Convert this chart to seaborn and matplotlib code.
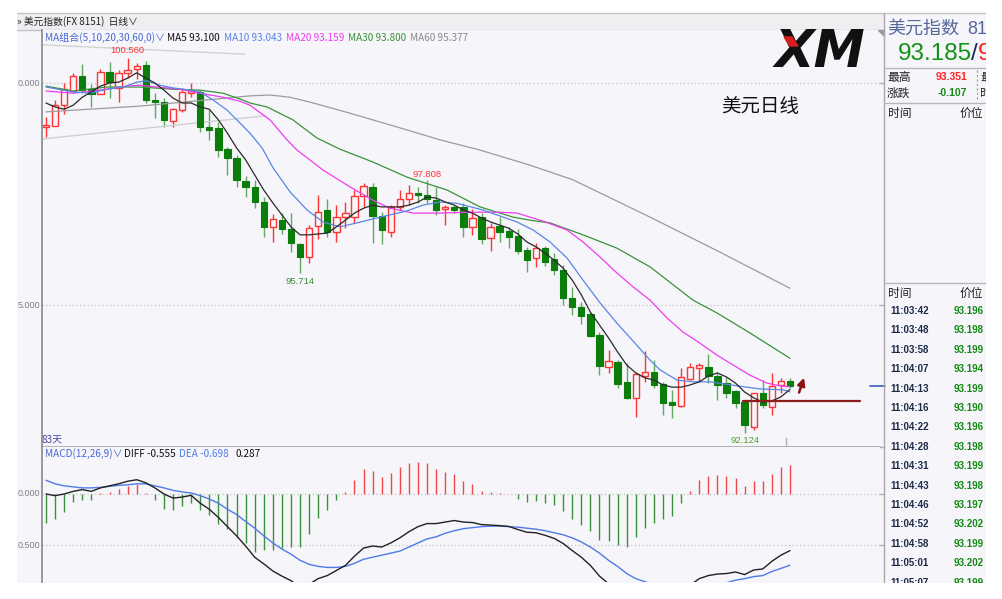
import numpy as np
import pandas as pd
import matplotlib
matplotlib.use('Agg')
import matplotlib.pyplot as plt
from matplotlib.patches import Rectangle, FancyArrowPatch
import seaborn as sns

# daily candles, 83 days
opens = [99.01, 99.03, 99.50, 99.82, 100.16, 99.86, 99.75, 100.25, 99.89, 100.23,
         100.32, 100.41, 99.62, 99.57, 99.14, 99.39, 99.77, 99.80, 99.01, 98.99,
         98.51, 98.31, 97.79, 97.66, 97.32, 96.76, 96.91, 96.71, 96.37, 96.08,
         96.78, 97.14, 96.64, 96.98, 96.98, 97.45, 97.66, 97.00, 96.64, 97.21,
         97.39, 97.52, 97.48, 97.36, 97.16, 97.21, 97.21, 96.76, 96.98, 96.51,
         96.78, 96.67, 96.55, 96.24, 96.06, 96.28, 96.04, 95.79, 95.16, 94.95,
         94.80, 94.32, 93.60, 93.72, 93.27, 92.91, 93.40, 93.49, 93.22, 92.82,
         92.73, 93.33, 93.58, 93.60, 93.40, 93.24, 93.06, 92.82, 92.25, 93.02,
         92.70, 93.20, 93.29]
highs = [99.23, 99.62, 100.00, 100.23, 100.43, 99.98, 100.32, 100.47, 100.29, 100.56,
         100.45, 100.50, 99.77, 99.66, 99.44, 99.89, 100.00, 99.84, 99.39, 99.12,
         98.56, 98.38, 97.91, 97.82, 97.43, 97.05, 97.07, 97.07, 96.40, 96.80,
         97.48, 97.39, 97.25, 97.32, 97.59, 97.75, 97.75, 97.09, 97.25, 97.59,
         97.70, 97.66, 97.808, 97.66, 97.25, 97.25, 97.30, 97.16, 97.07, 96.85,
         96.98, 96.76, 96.71, 96.31, 96.40, 96.33, 96.17, 95.90, 95.41, 95.07,
         94.84, 94.39, 93.99, 93.76, 93.69, 93.49, 93.96, 93.76, 93.27, 93.09,
         93.58, 93.69, 93.69, 93.90, 93.47, 93.38, 93.09, 92.86, 93.02, 93.31,
         93.47, 93.36, 93.351]
lows = [98.78, 99.03, 99.30, 99.80, 99.80, 99.46, 99.75, 99.66, 99.57, 100.11,
        100.09, 99.55, 99.21, 99.01, 99.01, 99.35, 99.68, 98.90, 98.72, 98.33,
        97.93, 97.66, 97.43, 97.18, 96.53, 96.42, 96.60, 96.19, 95.714, 95.95,
        96.49, 96.53, 96.42, 96.73, 96.85, 97.21, 96.40, 96.37, 96.53, 97.14,
        97.25, 97.30, 97.30, 97.03, 96.80, 97.07, 96.53, 96.58, 96.37, 96.22,
        96.42, 96.28, 96.15, 95.74, 95.86, 95.88, 95.68, 95.00, 94.77, 94.57,
        94.28, 93.42, 93.47, 93.13, 92.88, 92.48, 93.27, 93.13, 92.52, 92.45,
        92.70, 93.31, 93.27, 93.24, 92.86, 92.91, 92.68, 92.124, 92.18, 92.68,
        92.52, 93.02, 93.13]
closes = [99.05, 99.50, 99.86, 100.16, 99.84, 99.75, 100.25, 100.02, 100.23, 100.29,
          100.38, 99.62, 99.57, 99.17, 99.41, 99.80, 99.82, 99.01, 98.94, 98.49,
          98.31, 97.82, 97.66, 97.32, 96.76, 96.94, 96.71, 96.40, 96.08, 96.73,
          97.09, 96.64, 96.98, 97.07, 97.45, 97.68, 97.00, 96.68, 97.21, 97.39,
          97.52, 97.48, 97.39, 97.14, 97.21, 97.14, 96.76, 96.96, 96.49, 96.76,
          96.64, 96.53, 96.22, 96.01, 96.28, 95.97, 95.79, 95.16, 94.95, 94.75,
          94.30, 93.63, 93.74, 93.22, 92.91, 93.45, 93.49, 93.20, 92.79, 92.75,
          93.38, 93.60, 93.65, 93.40, 93.20, 93.02, 92.79, 92.30, 93.02, 92.75,
          93.18, 93.29, 93.185]

# moving averages as drawn on the chart
ma5 = [99.55, 99.46, 99.41, 99.50, 99.68, 99.80, 99.93, 100.00, 100.02, 100.11,
       100.23, 100.11, 100.00, 99.84, 99.66, 99.55, 99.55, 99.46, 99.41, 99.17,
       98.87, 98.54, 98.27, 97.93, 97.59, 97.30, 97.03, 96.76, 96.58, 96.58,
       96.60, 96.62, 96.76, 96.91, 97.07, 97.18, 97.25, 97.21, 97.21, 97.21,
       97.25, 97.32, 97.43, 97.41, 97.32, 97.25, 97.14, 97.07, 96.96, 96.87,
       96.80, 96.73, 96.60, 96.42, 96.31, 96.17, 96.01, 95.83, 95.56, 95.23,
       94.84, 94.55, 94.26, 93.94, 93.65, 93.47, 93.36, 93.31, 93.20, 93.15,
       93.15, 93.20, 93.27, 93.40, 93.47, 93.38, 93.24, 93.04, 92.91, 92.81,
       92.84, 92.93, 93.10]
ma10_x = [0, 2.98, 4.85, 6.72, 8.49, 10.03, 11.13, 12.56, 14.0, 15.87, 16.97, 18.41,
          19.95, 21.38, 22.48, 23.81, 25.02, 26.89, 28.77, 30.53, 32.40, 34.28, 36.04,
          37.91, 39.79, 41.55, 43.43, 45.30, 48.16, 51.91, 53.68, 55.55, 57.42, 59.19,
          61.06, 62.93, 64.70, 66.57, 67.67, 69.55, 71.31, 73.18, 76.16, 78.69, 81.23, 82]
ma10_y = [99.91, 99.80, 99.77, 99.86, 99.91, 100.02, 100.05, 99.95, 99.89, 99.84, 99.80, 99.62,
          99.39, 99.10, 98.87, 98.54, 98.09, 97.55, 97.14, 96.87, 96.76, 96.85, 96.94,
          97.03, 97.12, 97.25, 97.32, 97.29, 97.14, 96.87, 96.69, 96.42, 96.06, 95.56,
          95.05, 94.59, 94.19, 93.76, 93.54, 93.31, 93.27, 93.27, 93.18, 93.11, 93.09, 93.043]
ma20_x = [0, 2.98, 6.72, 8.93, 10.36, 12.23, 14.77, 16.97, 19.51, 21.38, 22.48, 24.69,
          26.56, 27.66, 30.53, 33.51, 36.04, 37.91, 40.45, 43.43, 46.73, 50.04, 51.91,
          54.78, 57.42, 59.19, 61.06, 62.93, 64.70, 66.57, 68.44, 70.21, 72.08, 73.96,
          75.72, 77.59, 79.47, 81.23, 82]
ma20_y = [99.82, 99.77, 99.86, 99.93, 99.95, 99.91, 99.86, 99.77, 99.68, 99.59, 99.50, 99.17,
          98.72, 98.49, 98.04, 97.66, 97.36, 97.18, 97.07, 97.07, 97.09, 97.09, 97.07,
          96.89, 96.69, 96.42, 96.08, 95.72, 95.41, 95.11, 94.71, 94.39, 94.14, 93.87,
          93.65, 93.42, 93.24, 93.17, 93.159]
ma30_x = [0, 2.98, 6.72, 10.36, 14.0, 16.97, 19.51, 21.38, 22.48, 24.36, 27.22, 27.99,
          29.87, 32.40, 36.04, 39.79, 44.20, 47.83, 51.47, 53.34, 55.55, 59.19, 62.93,
          66.57, 71.31, 73.96, 77.59, 82]
ma30_y = [99.93, 99.82, 99.91, 99.91, 99.86, 99.84, 99.77, 99.64, 99.55, 99.46, 99.17, 99.05,
          98.76, 98.51, 98.22, 97.88, 97.59, 97.21, 96.98, 96.91, 96.85, 96.58, 96.28,
          95.86, 95.11, 94.82, 94.37, 93.80]
ma60_x = [0, 10.36, 17.75, 22.48, 24.69, 26.89, 29.10, 33.51, 39.02, 43.43, 47.83,
          53.34, 58.08, 66.57, 74.29, 82]
ma60_y = [99.35, 99.48, 99.62, 99.71, 99.73, 99.68, 99.57, 99.32, 98.99, 98.72, 98.49,
          98.15, 97.82, 96.98, 96.19, 95.377]

# MACD(12,26,9)
diff_line = [0.00, -0.016, 0.00, 0.026, 0.043, 0.026, 0.06, 0.08, 0.10, 0.125,
             0.14, 0.11, 0.06, 0.00, -0.04, -0.03, -0.013, -0.09, -0.15, -0.23,
             -0.32, -0.41, -0.51, -0.62, -0.685, -0.755, -0.805, -0.85, -0.91, -0.885,
             -0.83, -0.80, -0.75, -0.70, -0.61, -0.53, -0.51, -0.52, -0.48, -0.43,
             -0.37, -0.32, -0.29, -0.29, -0.275, -0.26, -0.275, -0.28, -0.30, -0.305,
             -0.31, -0.318, -0.348, -0.375, -0.38, -0.405, -0.435, -0.485, -0.555, -0.62,
             -0.70, -0.805, -0.88, -0.96, -1.04, -1.04, -1.025, -1.03, -1.035, -1.03,
             -0.965, -0.894, -0.83, -0.80, -0.785, -0.78, -0.765, -0.79, -0.745, -0.735,
             -0.66, -0.60, -0.555]
dea_line = [0.135, 0.10, 0.08, 0.07, 0.06, 0.06, 0.065, 0.075, 0.085, 0.09,
            0.10, 0.10, 0.08, 0.06, 0.036, 0.02, 0.01, -0.016, -0.05, -0.09,
            -0.15, -0.20, -0.27, -0.335, -0.41, -0.48, -0.54, -0.59, -0.65, -0.69,
            -0.71, -0.72, -0.72, -0.71, -0.68, -0.64, -0.62, -0.60, -0.58, -0.56,
            -0.52, -0.48, -0.44, -0.42, -0.385, -0.36, -0.34, -0.33, -0.32, -0.315,
            -0.315, -0.32, -0.325, -0.335, -0.345, -0.36, -0.38, -0.40, -0.43, -0.47,
            -0.52, -0.58, -0.65, -0.71, -0.78, -0.83, -0.86, -0.89, -0.91, -0.92,
            -0.92, -0.91, -0.90, -0.89, -0.88, -0.87, -0.845, -0.83, -0.81, -0.80,
            -0.76, -0.73, -0.698]
macd_hist = [-0.28, -0.25, -0.18, -0.08, -0.056, -0.056, 0.01, 0.02, 0.05, 0.076,
             0.10, 0.005, -0.056, -0.145, -0.16, -0.12, -0.09, -0.16, -0.21, -0.29,
             -0.34, -0.42, -0.48, -0.57, -0.55, -0.55, -0.53, -0.52, -0.52, -0.39,
             -0.24, -0.155, -0.06, 0.016, 0.135, 0.25, 0.23, 0.17, 0.21, 0.26,
             0.30, 0.31, 0.30, 0.25, 0.22, 0.20, 0.13, 0.10, 0.033, 0.023,
             0.01, 0.003, -0.046, -0.08, -0.07, -0.09, -0.11, -0.17, -0.25, -0.30,
             -0.36, -0.45, -0.46, -0.50, -0.52, -0.42, -0.33, -0.28, -0.25, -0.22,
             -0.09, 0.033, 0.135, 0.18, 0.19, 0.18, 0.16, 0.076, 0.13, 0.13,
             0.20, 0.26, 0.287]

# drawn objects on the chart (candle index, price)
trend_a = ([-0.44, 21.9], [100.86, 100.65])
trend_b = ([-0.44, 24.14], [98.74, 99.26])
support_line = ([76.8, 89.7], [92.84, 92.84])
arrow_pts = ((82.9, 92.97), (83.65, 93.42))

# right hand quote panel
tick_times = ['11:03:42', '11:03:48', '11:03:58', '11:04:07', '11:04:13', '11:04:16',
              '11:04:22', '11:04:28', '11:04:31', '11:04:43', '11:04:46', '11:04:52',
              '11:04:58', '11:05:01', '11:05:07']
tick_prices = ['93.196', '93.198', '93.199', '93.194', '93.199', '93.190', '93.196',
               '93.198', '93.199', '93.198', '93.197', '93.202', '93.199', '93.202', '93.199']

sns.set_theme(style='white')
plt.rcParams['font.family'] = ['Noto Sans CJK SC', 'DejaVu Sans']
NUM = ['Liberation Sans', 'DejaVu Sans']

W, H = 1003, 599
BG = '#f5f5fa'
UP = '#ff3535'
DN = '#0a7d0a'
DN_WICK = '#62a862'
C_MA5, C_MA10, C_MA20, C_MA30, C_MA60 = '#2a2a2a', '#5a86e6', '#f03cf0', '#3a923a', '#9c9c9c'

fig = plt.figure(figsize=(W / 100, H / 100), dpi=100, facecolor='white')


def rect(x0, y0, x1, y1):
    return [x0 / W, 1 - y1 / H, (x1 - x0) / W, (y1 - y0) / H]


bg = fig.add_axes([0, 0, 1, 1], zorder=0)
bg.set_xlim(0, W)
bg.set_ylim(H, 0)
bg.axis('off')
bg.add_patch(Rectangle((17, 13), 969, 570, facecolor=BG, edgecolor='none'))
bg.add_patch(Rectangle((17, 13), 867, 17, facecolor='#efeff2', edgecolor='none'))
bg.plot([17, 986], [13, 13], color='#c4c4c8', lw=1)
bg.plot([17, 884], [30, 30], color='#c4c4c8', lw=1)

# ---- price panel
ax = fig.add_axes(rect(42, 30, 880, 447), zorder=1)
ax.set_facecolor(BG)
ax.set_xlim(-0.441, 91.92)
ax.set_ylim(91.802, 101.194)
for s in ['top', 'right']:
    ax.spines[s].set_visible(False)
ax.spines['left'].set_color('#8c8c90')
ax.spines['bottom'].set_color('#a8a8ac')
ax.set_xticks([])
ax.set_yticks([])
for g in [100, 95]:
    ax.axhline(g, color='#c2c2c6', lw=0.9, ls=(0, (1, 2)), zorder=1)

df = pd.DataFrame({'idx': np.arange(len(closes)), 'open': opens, 'high': highs,
                   'low': lows, 'close': closes})
up = df['close'] >= df['open']
lo = np.minimum(df['open'], df['close'])
hgt = np.maximum((df['close'] - df['open']).abs(), 0.03)
ax.vlines(df['idx'][up], df['low'][up], df['high'][up], color=UP, lw=1, zorder=2)
ax.vlines(df['idx'][~up], df['low'][~up], df['high'][~up], color=DN_WICK, lw=1, zorder=2)
ax.bar(df['idx'][up], hgt[up], bottom=lo[up], width=0.7, facecolor=BG,
       edgecolor=UP, lw=1, zorder=3)
ax.bar(df['idx'][~up], hgt[~up], bottom=lo[~up], width=0.7, facecolor=DN,
       edgecolor=DN, lw=0.8, zorder=3)

ax.plot(*trend_a, color='#d2d2d4', lw=1, zorder=2)
ax.plot(*trend_b, color='#d0d0d2', lw=1, zorder=2)

for xs, ys, col in [(ma60_x, ma60_y, C_MA60), (ma30_x, ma30_y, C_MA30),
                    (ma20_x, ma20_y, C_MA20), (ma10_x, ma10_y, C_MA10),
                    (list(df['idx']), ma5, C_MA5)]:
    sns.lineplot(x=xs, y=ys, ax=ax, color=col, lw=0.9, estimator=None,
                 sort=False, legend=False, zorder=4)

ax.plot(*support_line, color='#8e1c1c', lw=1.6, zorder=5)
ax.add_patch(FancyArrowPatch(arrow_pts[0], arrow_pts[1], arrowstyle='-|>',
                             mutation_scale=11, color='#8e1010', lw=1.8, zorder=6))

# extreme labels
imax = int(np.argmax(highs))
imin = int(np.argmin(lows))
ax.text(imax, highs[imax] + 0.06, f'{highs[imax]:.3f}', color=UP, fontsize=6.8,
        ha='center', va='bottom', family=NUM, zorder=6)
ax.text(42, highs[42] + 0.04, f'{highs[42]:.3f}', color=UP, fontsize=6.8,
        ha='center', va='bottom', family=NUM, zorder=6)
ax.text(28, lows[28] - 0.08, f'{lows[28]:.3f}', color='#3c8a3c', fontsize=6.8,
        ha='center', va='top', family=NUM, zorder=6)
ax.text(imin, lows[imin] - 0.07, f'{lows[imin]:.3f}', color='#5a9a30', fontsize=6.8,
        ha='center', va='top', family=NUM, zorder=6)

# ---- MACD panel
axm = fig.add_axes(rect(42, 447, 880, 582), zorder=1)
axm.set_facecolor(BG)
axm.set_xlim(-0.441, 91.92)
axm.set_ylim(-0.863, 0.461)
for s in ['top', 'right', 'bottom']:
    axm.spines[s].set_visible(False)
axm.spines['left'].set_color('#8c8c90')
axm.set_xticks([])
axm.set_yticks([])
for g in [0, -0.5]:
    axm.axhline(g, color='#c2c2c6', lw=0.9, ls=(0, (1, 2)), zorder=1)
hist = np.array(macd_hist)
axm.vlines(df['idx'], 0, hist, colors=np.where(hist > 0, '#f04848', '#3a923a'),
           lw=1, zorder=2)
sns.lineplot(x=df['idx'], y=dea_line, ax=axm, color='#4f7be6', lw=1, estimator=None,
             legend=False, zorder=3)
sns.lineplot(x=df['idx'], y=diff_line, ax=axm, color='#222222', lw=1, estimator=None,
             legend=False, zorder=3)

# ---- overlay: texts and right panel in pixel coordinates
ov = fig.add_axes([0, 0, 1, 1], zorder=10)
ov.set_xlim(0, W)
ov.set_ylim(H, 0)
ov.axis('off')
ov.patch.set_alpha(0)


def t(x, y, s, **kw):
    kw.setdefault('va', 'center')
    kw.setdefault('fontsize', 7.2)
    ov.text(x, y, s, **kw)


# header
t(17, 22, '» 美元指数(FX 8151)  日线∨', color='#222222', fontsize=7)
legend = [(45, 'MA组合(5,10,20,30,60,0)∨', '#4a6ad6'), (167, 'MA5 93.100', '#111111'),
          (224, 'MA10 93.043', C_MA10), (286, 'MA20 93.159', C_MA20),
          (348, 'MA30 93.800', C_MA30), (410, 'MA60 95.377', '#8a8a8a')]
for x, s, c in legend:
    t(x, 38, s, color=c)
macd_leg = [(45, 'MACD(12,26,9)∨', '#4a6ad6'), (124, 'DIFF -0.555', '#111111'),
            (179, 'DEA -0.698', '#4f7be6'), (236, '0.287', '#111111')]
for x, s, c in macd_leg:
    t(x, 454, s, color=c)
t(42, 439, '83天', color='#4a48a8', fontsize=7.2)

# axis labels (left, cropped numbers)
for y, s in [(83, '0.000'), (305, '5.000'), (494, '0.000'), (545, '0.500')]:
    t(40, y, s, ha='right', color='#808088', fontsize=6.5, family=NUM)
for y in [83, 305, 447, 494, 545]:
    ov.plot([880, 884], [y, y], color='#b0b0b4', lw=1)

# logo and title
t(820, 53, 'XM', ha='center', fontsize=37, fontweight='heavy', fontstyle='italic',
  color='#111111', family=['DejaVu Sans'], zorder=3)
ov.add_patch(plt.Polygon([[784, 37], [792, 37], [798, 46], [790, 46]], color='#d81e1e',
                         zorder=4))
t(760, 106, '美元日线', ha='center', fontsize=14, color='#111111')

ov.plot([870, 885], [386, 386], color='#3a5cc8', lw=1.2)
ov.plot([786, 786], [438, 446], color='#b0b0b4', lw=1)

# right quote panel
ov.plot([884, 884], [13, 583], color='#a8a8ac', lw=1)
for y in [68, 103, 283]:
    ov.plot([884, 986], [y, y], color='#b8b8bc', lw=1)
ov.plot([977, 977], [70, 101], color='#9a9a9a', lw=0.8, ls=(0, (2, 2)))
ov.add_patch(plt.Polygon([[878, 30], [884, 30], [884, 36]], color='#9a9a9e'))
t(887, 29, '美元指数', fontsize=13, color='#56679a')
t(967, 29, '81', fontsize=13, color='#56679a', family=NUM)
t(898, 54, '93.185', fontsize=17.5, color='#139313', family=NUM)
t(971, 54, '/', fontsize=17.5, color='#1a2a5a', family=NUM)
t(978, 54, '9', fontsize=17.5, color='#ff2020', family=NUM)
t(887, 77, '最高', fontsize=8.5, color='#222222')
t(967, 77, '93.351', ha='right', fontsize=7.5, fontweight='bold', color='#ff2424', family=NUM)
t(887, 93, '涨跌', fontsize=8.5, color='#222222')
t(967, 93, '-0.107', ha='right', fontsize=7.5, fontweight='bold', color='#178a17', family=NUM)
t(980, 77, '最', fontsize=8.5, color='#222222')
t(980, 93, '时', fontsize=8.5, color='#222222')
for y in [113, 293]:
    t(888, y, '时间', fontsize=8.5, color='#222222')
    t(983, y, '价位', ha='right', fontsize=8.5, color='#222222')
for i, (tm, pr) in enumerate(zip(tick_times, tick_prices)):
    y = 311 + i * 19.4
    t(890, y, tm, fontsize=7, fontweight='bold', color='#1c2a48', family=NUM)
    t(984, y, pr, ha='right', fontsize=7, fontweight='bold', color='#128a12', family=NUM)

# white crop borders of the screenshot
ov.add_patch(Rectangle((986, 0), 17, H, facecolor='white', edgecolor='none', zorder=20))
ov.add_patch(Rectangle((0, 583), W, 16, facecolor='white', edgecolor='none', zorder=20))
ov.add_patch(Rectangle((0, 0), 17, H, facecolor='white', edgecolor='none', zorder=20))

fig.savefig('out.png', dpi=100, facecolor='white')
